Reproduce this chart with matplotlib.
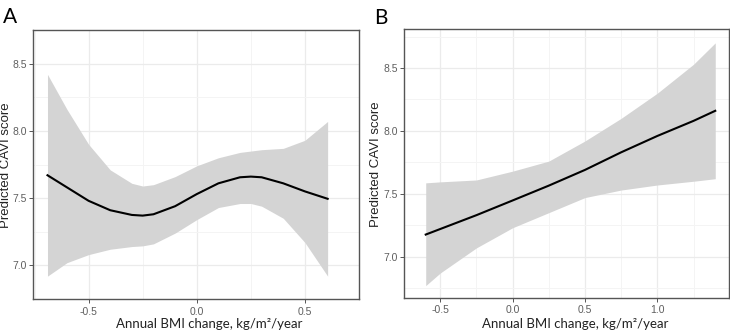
import matplotlib.pyplot as plt
import matplotlib as mpl

mpl.rcParams['font.family'] = ['Liberation Sans', 'DejaVu Sans']

# panel A: non-linear fit with 95% CI
a_x = [-0.69, -0.6, -0.5, -0.4, -0.3, -0.25, -0.2, -0.1, 0.0, 0.1, 0.2, 0.25, 0.3, 0.4, 0.5, 0.605]
a_fit = [7.67, 7.58, 7.48, 7.41, 7.375, 7.37, 7.38, 7.44, 7.53, 7.61, 7.655, 7.66, 7.655, 7.61, 7.55, 7.495]
a_hi = [8.42, 8.16, 7.90, 7.71, 7.61, 7.59, 7.60, 7.66, 7.74, 7.80, 7.84, 7.85, 7.86, 7.87, 7.93, 8.07]
a_lo = [6.92, 7.02, 7.08, 7.12, 7.14, 7.145, 7.16, 7.24, 7.34, 7.43, 7.46, 7.46, 7.44, 7.35, 7.17, 6.92]

# panel B: linear fit with 95% CI
b_x = [-0.6, -0.5, -0.25, 0.0, 0.25, 0.5, 0.75, 1.0, 1.25, 1.4]
b_fit = [7.176, 7.22, 7.33, 7.447, 7.565, 7.69, 7.83, 7.96, 8.08, 8.16]
b_hi = [7.587, 7.595, 7.61, 7.68, 7.76, 7.92, 8.10, 8.30, 8.53, 8.70]
b_lo = [6.77, 6.87, 7.07, 7.23, 7.35, 7.47, 7.53, 7.57, 7.60, 7.62]

a_xticks = [-0.5, 0.0, 0.5]
a_yticks = [7.0, 7.5, 8.0, 8.5]
b_xticks = [-0.5, 0.0, 0.5, 1.0]
b_yticks = [7.0, 7.5, 8.0, 8.5]

xlab = 'Annual BMI change, kg/m\u00b2/year'
ylab = 'Predicted CAVI score'

fig = plt.figure(figsize=(7.3, 3.3), dpi=100)
axA = fig.add_axes([33/730, 31/330, 326/730, 269/330])
axB = fig.add_axes([404/730, 32.3/330, 325/730, 268.4/330])


def style(ax, x, fit, lo, hi, xt, yt, xlim, ylim):
    ax.fill_between(x, lo, hi, color='#d4d4d4', lw=0, zorder=2)
    ax.plot(x, fit, color='black', lw=1.5, zorder=3)
    ax.set_xlim(*xlim)
    ax.set_ylim(*ylim)
    ax.set_xticks(xt)
    ax.set_yticks(yt)
    ax.set_xticklabels([f'{v:.1f}' for v in xt])
    ax.set_yticklabels([f'{v:.1f}' for v in yt])
    # minor grid halfway between majors, like ggplot
    ax.set_xticks([(xt[i] + xt[i+1]) / 2 for i in range(len(xt) - 1)] +
                  [xt[0] - 0.25, xt[-1] + 0.25], minor=True)
    ax.set_yticks([(yt[i] + yt[i+1]) / 2 for i in range(len(yt) - 1)] +
                  [yt[0] - 0.25, yt[-1] + 0.25], minor=True)
    ax.grid(True, which='major', color='#ebebeb', lw=0.9, zorder=0)
    ax.grid(True, which='minor', color='#f4f4f4', lw=0.7, zorder=0)
    ax.tick_params(which='minor', length=0)
    ax.tick_params(which='major', length=3, width=0.7, color='#555555',
                   labelsize=7.5, labelcolor='#5e5e5e', pad=2.5)
    ax.tick_params(axis='y', pad=1.5)
    for s in ax.spines.values():
        s.set_color('#555555')
        s.set_linewidth(1.0)
    ax.set_axisbelow(True)


style(axA, a_x, a_fit, a_lo, a_hi, a_xticks, a_yticks, (-0.757, 0.673), (6.827, 8.508))
style(axB, b_x, b_fit, b_lo, b_hi, b_xticks, b_yticks, (-0.703, 1.495), (6.674, 8.808))

# axis titles placed by hand
fig.text(209/730, 1 - 323.5/330, xlab, fontsize=9.5, family=['Lato', 'DejaVu Sans'],
         ha='center', va='center', color='#222222')
fig.text(575/730, 1 - 323.5/330, xlab, fontsize=9.5, family=['Lato', 'DejaVu Sans'],
         ha='center', va='center', color='#222222')
fig.text(6.5/730, 1 - 165/330, ylab, fontsize=9.5, rotation=90,
         ha='center', va='center', color='#222222')
fig.text(376/730, 1 - 164/330, ylab, fontsize=9.5, rotation=90,
         ha='center', va='center', color='#222222')

fig.text(3/730, 1 - 23/330, 'A', fontsize=15, family=['Lato', 'DejaVu Sans'])
fig.text(374/730, 1 - 24/330, 'B', fontsize=15, family=['Lato', 'DejaVu Sans'])

fig.savefig('out.png', dpi=100)
